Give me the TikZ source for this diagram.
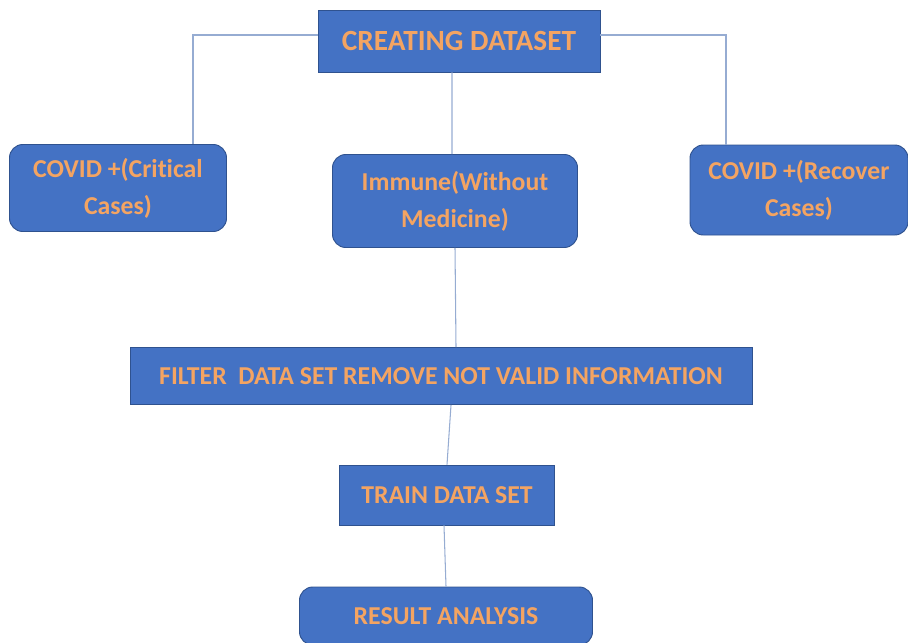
\documentclass[tikz,border=0pt]{standalone}
\usepackage{fontspec}
\setmainfont{Carlito}[Ligatures=NoCommon]
\usepackage{tikz}
\usetikzlibrary{positioning}
\definecolor{cajaazul}{RGB}{68,114,196}
\definecolor{bordeazul}{RGB}{47,82,143}
\definecolor{lineaazul}{RGB}{150,172,210}
\definecolor{textonaranja}{RGB}{244,164,98}
\tikzset{
	caja/.style={draw=bordeazul, fill=cajaazul, line width=0.8pt, align=center, text=textonaranja, font=\bfseries\fontsize{22}{31.5}\selectfont, inner sep=0pt}, % Cajas rectas
	cajared/.style={caja, rounded corners=0.4cm}, % Cajas con esquinas redondeadas
	enlace/.style={draw=lineaazul, line width=0.9pt} % Lineas de union
}

\begin{document}
\begin{tikzpicture}[x=0.03cm, y=-0.03cm]
	\useasboundingbox (0,0) rectangle (908,642);
	
	\node[caja, minimum width=8.46cm, minimum height=1.86cm, font=\bfseries\fontsize{25}{29}\selectfont] (crear) at (459,41) {CREATING DATASET};
	
	\node[cajared, minimum width=6.51cm, minimum height=2.61cm] (critico) at (118,188) {COVID +(Critical\\Cases)};
	\node[cajared, minimum width=7.35cm, minimum height=2.79cm] (inmune) at (455,201) {Immune(Without\\Medicine)};
	\node[cajared, minimum width=6.54cm, minimum height=2.7cm] (recupera) at (799,190) {COVID +(Recover\\Cases)};
	
	\node[caja, minimum width=18.66cm, minimum height=1.71cm] (filtro) at (441,376) {FILTER\ \ DATA SET REMOVE NOT VALID INFORMATION};
	\node[caja, minimum width=6.45cm, minimum height=1.8cm] (entrena) at (447,495) {TRAIN DATA SET};
	\node[cajared, minimum width=8.79cm, minimum height=1.74cm] (resultado) at (446,616) {RESULT ANALYSIS};
	
	\draw[enlace] ([yshift=0.18cm]crear.west) -| ([xshift=2.25cm]critico.north);
	\draw[enlace] ([yshift=0.18cm]crear.east) -| ([xshift=-2.19cm]recupera.north);
	\draw[enlace] ([xshift=-0.21cm]crear.south) -- ([xshift=-0.09cm]inmune.north);
	\draw[enlace] (inmune.south) -- ([xshift=0.45cm]filtro.north);
	\draw[enlace] ([xshift=0.3cm]filtro.south) -- (entrena.north);
	\draw[enlace] ([xshift=-0.09cm]entrena.south) -- (resultado.north);
\end{tikzpicture}
\end{document}
